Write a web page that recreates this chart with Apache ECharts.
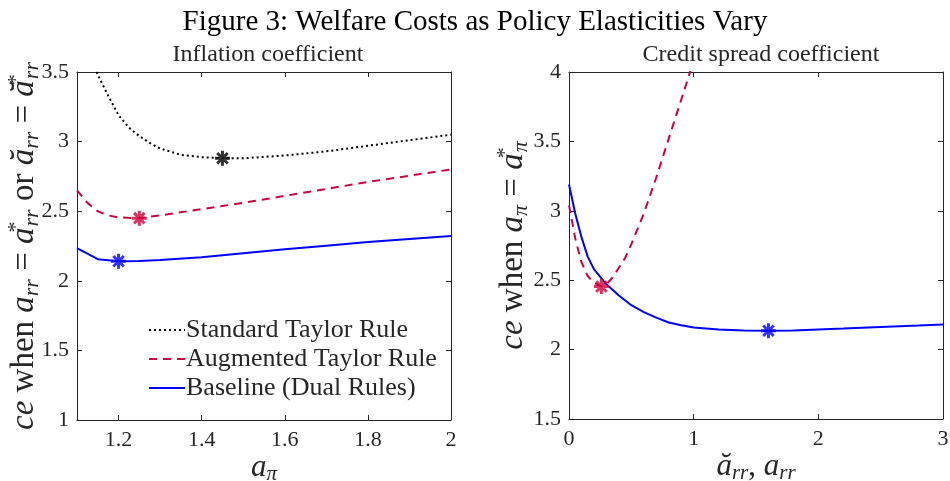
<!DOCTYPE html>
<html>
<head>
<meta charset="utf-8">
<script src="https://cdn.jsdelivr.net/npm/echarts@6/dist/echarts.min.js"></script>
<style>html,body{margin:0;padding:0;background:#fff}#c{width:950px;height:481px}</style>
</head>
<body>
<div id="c"></div>
<script>
// ---- Left panel: inflation coefficient ----
const stdX  = [1.147, 1.15, 1.175, 1.2, 1.225, 1.25, 1.275, 1.3, 1.35, 1.4, 1.45, 1.5, 1.6, 1.7, 1.8, 1.9, 2.0];
const stdY  = [3.50, 3.48, 3.33, 3.19, 3.10, 3.04, 2.99, 2.95, 2.905, 2.888, 2.88, 2.88, 2.90, 2.93, 2.97, 3.01, 3.05];
const augX  = [1.1, 1.125, 1.15, 1.175, 1.2, 1.25, 1.3, 1.4, 1.5, 1.6, 1.7, 1.8, 1.9, 2.0];
const augY  = [2.65, 2.56, 2.50, 2.47, 2.455, 2.45, 2.47, 2.515, 2.56, 2.61, 2.66, 2.71, 2.755, 2.80];
const baseX = [1.1, 1.15, 1.2, 1.25, 1.3, 1.4, 1.5, 1.6, 1.7, 1.8, 1.9, 2.0];
const baseY = [2.235, 2.155, 2.14, 2.142, 2.15, 2.17, 2.198, 2.226, 2.252, 2.278, 2.30, 2.322];
const leftOptima = { std: [1.45, 2.88], aug: [1.25, 2.45], base: [1.2, 2.14] };
const leftXTicks = [1.2, 1.4, 1.6, 1.8, 2];
const leftYTicks = [1, 1.5, 2, 2.5, 3, 3.5];

// ---- Right panel: credit spread coefficient ----
const augRX  = [0, 0.05, 0.1, 0.15, 0.2, 0.26, 0.3, 0.35, 0.4, 0.45, 0.5, 0.6, 0.7, 0.8, 0.9, 1.0];
const augRY  = [3.04, 2.80, 2.63, 2.53, 2.48, 2.455, 2.47, 2.52, 2.59, 2.66, 2.76, 2.98, 3.24, 3.52, 3.80, 4.08];
const baseRX = [0, 0.05, 0.1, 0.15, 0.2, 0.3, 0.4, 0.5, 0.6, 0.7, 0.8, 0.9, 1.0, 1.2, 1.4, 1.6, 1.8, 2.0, 2.2, 2.4, 2.6, 2.8, 3.0];
const baseRY = [3.19, 2.98, 2.81, 2.67, 2.58, 2.47, 2.39, 2.32, 2.27, 2.23, 2.195, 2.175, 2.16, 2.145, 2.138, 2.136, 2.138, 2.145, 2.152, 2.16, 2.167, 2.173, 2.18];
const rightOptima = { aug: [0.26, 2.455], base: [1.6, 2.136] };
const rightXTicks = [0, 1, 2, 3];
const rightYTicks = [1.5, 2, 2.5, 3, 3.5, 4];

const names = ['Standard Taylor Rule', 'Augmented Taylor Rule', 'Baseline (Dual Rules)'];
const RED = '#D0003C', BLUE = '#0000FF', BLACK = '#000000';
const AX = '#262626';
const SERIF = '"Liberation Serif", "DejaVu Serif", serif';
const STAR = 'path://M10,0L10,20M0,10L20,10M3,3L17,17M3,17L17,3';

const zip = (xs, ys) => xs.map((x, i) => [x, ys[i]]);

const richMath = {
  i:   { fontFamily: SERIF, fontStyle: 'italic', fontSize: 33, color: AX, lineHeight: 38 },
  r:   { fontFamily: SERIF, fontSize: 33, color: AX, lineHeight: 38 },
  sub: { fontFamily: SERIF, fontStyle: 'italic', fontSize: 22, color: AX, lineHeight: 22, verticalAlign: 'bottom' },
  sup: { fontFamily: SERIF, fontSize: 22, color: AX, lineHeight: 20, verticalAlign: 'top', width: 1 }
};
const richX = {
  i:   { fontFamily: SERIF, fontStyle: 'italic', fontSize: 31, color: AX, lineHeight: 34 },
  r:   { fontFamily: SERIF, fontSize: 31, color: AX, lineHeight: 34 },
  sub: { fontFamily: SERIF, fontStyle: 'italic', fontSize: 21, color: AX, lineHeight: 20, verticalAlign: 'bottom' }
};

function xAxes(gi, min, max, ticks, name) {
  const base = {
    gridIndex: gi, type: 'value', min: min, max: max,
    axisLine: { show: true, onZero: false, lineStyle: { color: AX, width: 1 } },
    splitLine: { show: false }
  };
  return [
    Object.assign({}, base, {
      position: 'bottom',
      axisTick: { inside: true, length: 5, lineStyle: { color: AX }, customValues: ticks },
      axisLabel: { customValues: ticks, color: AX, fontFamily: SERIF, fontSize: 22, margin: 9 },
      name: name, nameLocation: 'middle', nameGap: 31, nameMoveOverlap: false,
      nameTextStyle: { rich: richX }
    }),
    Object.assign({}, base, {
      position: 'top',
      axisTick: { inside: true, length: 5, lineStyle: { color: AX }, customValues: ticks },
      axisLabel: { show: false }
    })
  ];
}
function yAxes(gi, min, max, ticks, name, gap) {
  const base = {
    gridIndex: gi, type: 'value', min: min, max: max,
    axisLine: { show: true, onZero: false, lineStyle: { color: AX, width: 1 } },
    splitLine: { show: false }
  };
  return [
    Object.assign({}, base, {
      position: 'left',
      axisTick: { inside: true, length: 5, lineStyle: { color: AX }, customValues: ticks },
      axisLabel: { customValues: ticks, color: AX, fontFamily: SERIF, fontSize: 22, margin: 8 },
      name: name, nameLocation: 'middle', nameGap: gap, nameRotate: 90, nameMoveOverlap: false,
      nameTextStyle: { rich: richMath }
    }),
    Object.assign({}, base, {
      position: 'right',
      axisTick: { inside: true, length: 5, lineStyle: { color: AX }, customValues: ticks },
      axisLabel: { show: false }
    })
  ];
}

const lineSeries = (name, data, color, type, xi, yi, width) => ({
  name: name, type: 'line', data: data, xAxisIndex: xi, yAxisIndex: yi,
  symbol: 'none', smooth: false, clip: true,
  lineStyle: { color: color, width: width, type: type },
  itemStyle: { color: color }, z: 3
});
const starSeries = (pt, color, xi, yi) => ({
  type: 'scatter', data: [pt], xAxisIndex: xi, yAxisIndex: yi,
  symbol: STAR, symbolSize: 15,
  itemStyle: { color: color, borderColor: color, borderWidth: 3 },
  z: 5, silent: true
});

const leftYName = '{i|ce}{r| when }{i|a}{sub|rr}{r| = }{i|a}{sup|*}{sub|rr}{r| or }{i|ă}{sub|rr}{r| = }{i|ă}{sup|*}{sub|rr}';
const rightYName = '{i|ce}{r| when }{i|a}{sub|π}{r| = }{i|a}{sup|*}{sub|π}';

const xa = xAxes(0, 1.1, 2, leftXTicks, '{i|a}{sub|π}')
  .concat(xAxes(1, 0, 3, rightXTicks, '{i|ă}{sub|rr}{r|, }{i|a}{sub|rr}'));
const ya = yAxes(0, 1, 3.5, leftYTicks, leftYName, 34)
  .concat(yAxes(1, 1.5, 4, rightYTicks, rightYName, 37));

const option = {
  animation: false,
  backgroundColor: '#ffffff',
  title: [
    { text: 'Figure 3: Welfare Costs as Policy Elasticities Vary', left: 'center', top: 3,
      textStyle: { fontFamily: SERIF, fontWeight: 'normal', fontSize: 29, color: '#000' } },
    { text: 'Inflation coefficient', left: 263, top: 38, textAlign: 'center',
      textStyle: { fontFamily: SERIF, fontWeight: 'normal', fontSize: 24, color: AX } },
    { text: 'Credit spread coefficient', left: 756, top: 38, textAlign: 'center',
      textStyle: { fontFamily: SERIF, fontWeight: 'normal', fontSize: 24, color: AX } }
  ],
  legend: {
    data: names, orient: 'vertical', left: 143, top: 312,
    itemWidth: 36, itemHeight: 14, itemGap: 3,
    itemStyle: { opacity: 0 },
    textStyle: { fontFamily: SERIF, fontSize: 26, color: AX, padding: [0, 0, 0, -4] },
    selectedMode: false
  },
  grid: [
    { left: 77, top: 72, width: 374, height: 348, outerBoundsMode: 'none', containLabel: false },
    { left: 569, top: 72, width: 374, height: 347, outerBoundsMode: 'none', containLabel: false }
  ],
  xAxis: xa,
  yAxis: ya,
  series: [
    lineSeries(names[0], zip(stdX, stdY), BLACK, [2, 3], 0, 0, 2),
    lineSeries(names[1], zip(augX, augY), RED, [8, 6], 0, 0, 2),
    lineSeries(names[2], zip(baseX, baseY), BLUE, 'solid', 0, 0, 2),
    starSeries(leftOptima.std, BLACK, 0, 0),
    starSeries(leftOptima.aug, RED, 0, 0),
    starSeries(leftOptima.base, BLUE, 0, 0),
    lineSeries(names[1], zip(augRX, augRY), RED, [8, 6], 2, 2, 2),
    lineSeries(names[2], zip(baseRX, baseRY), BLUE, 'solid', 2, 2, 2),
    starSeries(rightOptima.aug, RED, 2, 2),
    starSeries(rightOptima.base, BLUE, 2, 2)
  ]
};
echarts.init(document.getElementById('c'), null, { renderer: 'canvas' }).setOption(option);
</script>
</body>
</html>
